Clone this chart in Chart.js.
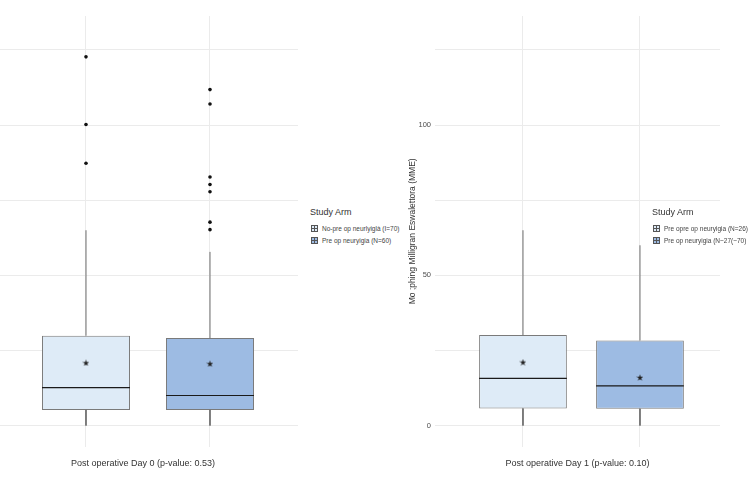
<!DOCTYPE html>
<html>
<head>
<meta charset="utf-8">
<script src="https://cdn.jsdelivr.net/npm/chart.js@4.4.1/dist/chart.umd.min.js"></script>
<style>
body { margin: 0; background: #fff; width: 750px; height: 500px; overflow: hidden; position: relative; font-family: "Liberation Sans", Arial, sans-serif; }
#day0 { position: absolute; left: -12px; top: 0; }
#day1 { position: absolute; left: 400px; top: 0; }
.lg-title { position: absolute; font-size: 9px; color: #333; line-height: 10px; white-space: nowrap; }
.lg-item { position: absolute; font-size: 6.5px; color: #444; line-height: 8px; white-space: nowrap; }
.lg-key { position: absolute; width: 5px; height: 5px; border: 1px solid #555; }
</style>
</head>
<body>
<canvas id="day0" width="310" height="500"></canvas>
<canvas id="day1" width="350" height="500"></canvas>
<script>
const boxColors = ['#deebf7', '#9dbbe3'];
const positions = [1, 2];

// Post operative Day 0
const day0Title = 'Post operative Day 0 (p-value: 0.53)';
const day0Arms = ['No-pre op neurlyiglà (I=70)', 'Pre op neuryigia (N=60)'];
const day0Low = [0, 0];
const day0Q1 = [5.2, 5.2];
const day0Median = [12.6, 10.0];
const day0Q3 = [29.9, 29.1];
const day0High = [65.0, 57.8];
const day0Mean = [20.9, 20.6];
const day0Outliers = [[122.7, 100.2, 87.3], [111.8, 107.0, 82.7, 80.2, 77.8, 67.7, 65.2]];

// Post operative Day 1
const day1Title = 'Post operative Day 1 (p-value: 0.10)';
const day1Arms = ['Pre opre op neuryigia (N=26)', 'Pre op neuryigia (N~27(~70)'];
const day1Low = [0, 0];
const day1Q1 = [5.7, 5.6];
const day1Median = [15.7, 13.2];
const day1Q3 = [30.1, 28.3];
const day1High = [65.0, 60.0];
const day1Mean = [21.1, 16.0];
const day1Outliers = [[], []];

const yTitle = 'Mo ;phing Milligran Eswalettora (MME)';
const yLabels = [0, 50, 100];

// filled star used for the mean marker
const star = document.createElement('canvas');
star.width = 7; star.height = 7;
(function () {
  const c = star.getContext('2d');
  c.fillStyle = '#222';
  c.beginPath();
  for (let i = 0; i < 10; i++) {
    const r = i % 2 ? 1.4 : 3.5;
    const a = -Math.PI / 2 + i * Math.PI / 5;
    c.lineTo(3.5 + r * Math.cos(a), 3.8 + r * Math.sin(a));
  }
  c.closePath();
  c.fill();
})();

function boxDatasets(low, q1, med, q3, high, mean, outliers, boxWidth) {
  const whiskers = [];
  const medians = [];
  positions.forEach((x, i) => {
    whiskers.push({ x, y: q3[i] }, { x, y: high[i] }, { x, y: null });
    whiskers.push({ x, y: q1[i] }, { x, y: low[i] }, { x, y: null });
    medians.push({ x: x - boxWidth / 2, y: med[i] }, { x: x + boxWidth / 2, y: med[i] }, { x, y: null });
  });
  const pts = [];
  outliers.forEach((list, i) => list.forEach(v => pts.push({ x: positions[i], y: v })));
  return [
    {
      type: 'bar',
      data: positions.map((x, i) => ({ x, y: [q1[i], q3[i]] })),
      backgroundColor: boxColors,
      borderColor: '#7a7a7a',
      borderWidth: 1,
      borderSkipped: false,
      barPercentage: boxWidth,
      categoryPercentage: 1,
      order: 5
    },
    { data: whiskers, showLine: true, borderColor: '#6e6e6e', borderWidth: 1, pointRadius: 0, spanGaps: false, order: 4 },
    { data: medians, showLine: true, borderColor: '#1a1a1a', borderWidth: 1.2, pointRadius: 0, spanGaps: false, order: 3 },
    { data: positions.map((x, i) => ({ x, y: mean[i] })), pointStyle: star, pointRadius: 3.5, order: 2 },
    { data: pts, pointRadius: 1.8, backgroundColor: '#111', borderColor: '#111', borderWidth: 0, order: 1 }
  ];
}

function makeChart(id, datasets, xMin, xMax, xTitle, showY, pad) {
  return new Chart(document.getElementById(id), {
    type: 'scatter',
    data: { datasets },
    options: {
      responsive: false,
      animation: false,
      layout: { padding: pad, autoPadding: false },
      plugins: { legend: { display: false }, tooltip: { enabled: false } },
      scales: {
        x: {
          type: 'linear', min: xMin, max: xMax, offset: false,
          afterBuildTicks: s => { s.ticks = positions.map(v => ({ value: v })); },
          ticks: { display: false },
          grid: { color: '#ebebeb', drawTicks: false, offset: false },
          border: { display: false },
          title: {
            display: true, text: xTitle, color: '#333',
            font: { family: 'Liberation Sans', size: 9 },
            padding: { top: 12, bottom: 0 }
          }
        },
        y: {
          min: -7, max: 136.3,
          afterFit: s => { s.width = showY ? 35 : 0; },
          ticks: {
            display: showY, stepSize: 25, includeBounds: false, padding: 4,
            color: '#4d4d4d', font: { family: 'Liberation Sans', size: 7.5 },
            callback: v => yLabels.includes(v) ? v : ''
          },
          grid: { color: '#ebebeb', drawTicks: false },
          border: { display: false },
          title: {
            display: showY, text: yTitle, color: '#333',
            font: { family: 'Liberation Sans', size: 8.5 },
            padding: { top: 8, bottom: 0 }
          }
        }
      }
    }
  });
}

makeChart('day0',
  boxDatasets(day0Low, day0Q1, day0Median, day0Q3, day0High, day0Mean, day0Outliers, 0.71),
  0.2097, 2.7097, day0Title, false, { left: 0, right: 0, top: 16, bottom: 30.6 });

makeChart('day1',
  boxDatasets(day1Low, day1Q1, day1Median, day1Q3, day1High, day1Mean, day1Outliers, 0.75),
  0.248, 2.684, day1Title, true, { left: 0, right: 30, top: 16, bottom: 30.6 });

function legend(left, arms) {
  const t = document.createElement('div');
  t.className = 'lg-title';
  t.style.left = left + 'px';
  t.style.top = '207px';
  t.textContent = 'Study Arm';
  document.body.appendChild(t);
  arms.forEach((name, i) => {
    const top = 224.5 + i * 12;
    const k = document.createElement('div');
    k.className = 'lg-key';
    k.style.left = (left + 1) + 'px';
    k.style.top = (top + 0.5) + 'px';
    k.style.background = 'linear-gradient(#555,#555) center/1px 100% no-repeat, linear-gradient(#555,#555) center/100% 1px no-repeat, ' + boxColors[i];
    document.body.appendChild(k);
    const d = document.createElement('div');
    d.className = 'lg-item';
    d.style.left = (left + 12) + 'px';
    d.style.top = top + 'px';
    d.textContent = name;
    document.body.appendChild(d);
  });
}
legend(310, day0Arms);
legend(652, day1Arms);
</script>
</body>
</html>
